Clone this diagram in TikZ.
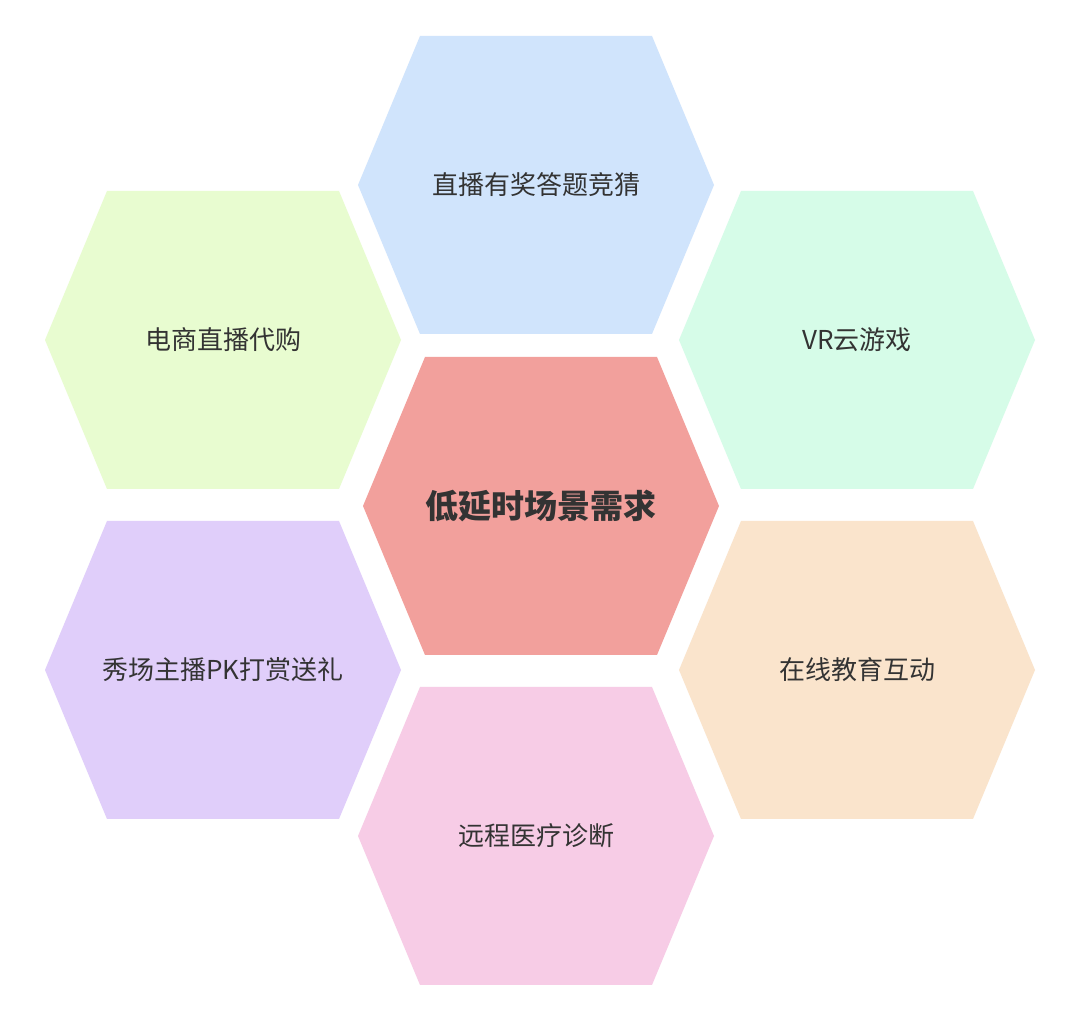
\documentclass[tikz,border=0pt]{standalone}
\usepackage{fontspec}
\setmainfont{Noto Sans CJK SC}
\begin{document}
\begin{tikzpicture}[x=1pt,y=1pt]
\useasboundingbox[fill=white] (0,0) rectangle (1080,1028);
\definecolor{cblue}{HTML}{D0E4FC}
\definecolor{cgreen}{HTML}{E8FCD0}
\definecolor{cmint}{HTML}{D6FCE8}
\definecolor{cred}{HTML}{F2A09C}
\definecolor{cviolet}{HTML}{E0CEFA}
\definecolor{corange}{HTML}{FAE4CC}
\definecolor{cpink}{HTML}{F7CCE6}
\definecolor{ctext}{HTML}{333333}
\tikzset{hexlabel/.style={text=ctext,font=\fontsize{26}{30}\selectfont}}
\newcommand{\hexat}[5]{%
  \fill[#3] (#1-178,#2) -- (#1-116,#2+149) -- (#1+116,#2+149) -- (#1+178,#2) -- (#1+116,#2-149) -- (#1-116,#2-149) -- cycle;
  \node[hexlabel,#5] (#4) at (#1,#2) {\phantom{x}};}
\hexat{536}{843}{cblue}{top}{}
\node[hexlabel] at (536,843) {直播有奖答题竞猜};
\hexat{541}{522}{cred}{center}{}
\node[hexlabel,font=\fontsize{33}{38}\selectfont\bfseries] at (541,522) {低延时场景需求};
\hexat{223}{688}{cgreen}{lt}{}
\node[hexlabel] at (223,688) {电商直播代购};
\hexat{857}{688}{cmint}{rt}{}
\node[hexlabel] at (857,688) {VR云游戏};
\hexat{223}{358}{cviolet}{lb}{}
\node[hexlabel] at (223,358) {秀场主播PK打赏送礼};
\hexat{857}{358}{corange}{rb}{}
\node[hexlabel] at (857,358) {在线教育互动};
\hexat{536}{192}{cpink}{bot}{}
\node[hexlabel] at (536,192) {远程医疗诊断};
\end{tikzpicture}
\end{document}
